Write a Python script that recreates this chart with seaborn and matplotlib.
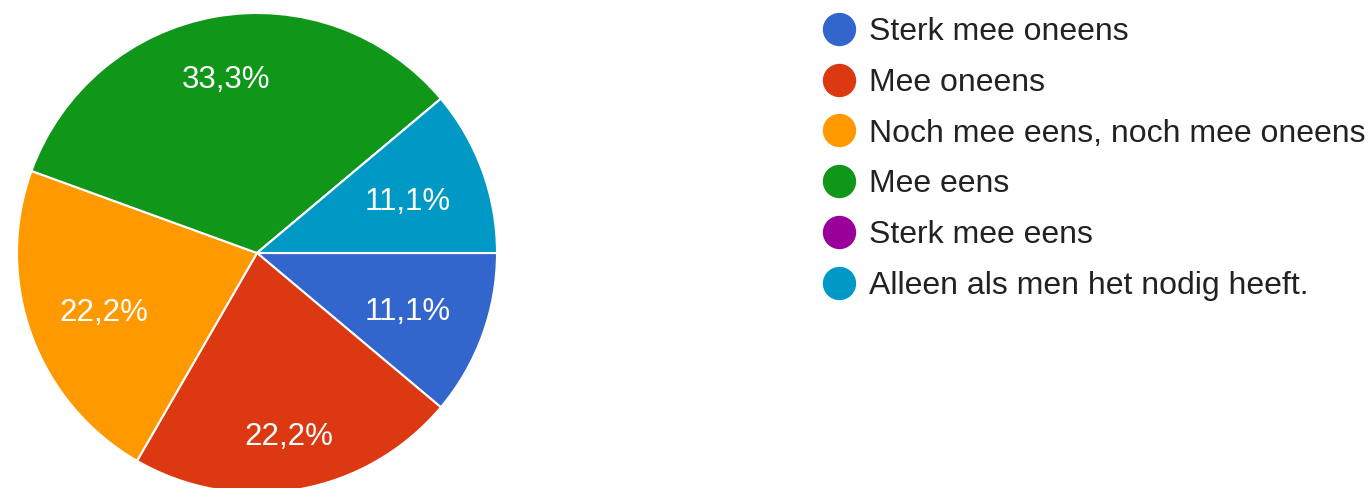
import numpy as np
import seaborn as sns
import matplotlib.pyplot as plt
from matplotlib.lines import Line2D


# -------------------------------------------------
# DATA
# -------------------------------------------------
categories = [
    "Sterk mee oneens",
    "Mee oneens",
    "Noch mee eens, noch mee oneens",
    "Mee eens",
    "Sterk mee eens",
    "Alleen als men het nodig heeft.",
]
counts = [1, 2, 2, 3, 0, 1]
colors = ["#3366CC", "#DC3912", "#FF9900", "#109618", "#990099", "#0099C6"]

# radial position of each percentage label (fraction of radius)
label_radius = [0.67, 0.76, 0.68, 0.75, 0.7, 0.67]


def pct_label(p):
    if p <= 0:
        return ""
    return f"{p:.1f}%".replace(".", ",")


# -------------------------------------------------
# PLOT
# -------------------------------------------------
sns.set_theme(style="white")
plt.rcParams["font.family"] = ["Liberation Sans", "DejaVu Sans"]

W, H = 1370, 488
fig = plt.figure(figsize=(W / 100, H / 100), dpi=100)
fig.patch.set_facecolor("white")

ax = fig.add_axes([17 / W, -5 / H, 480 / W, 480 / H])
wedges, texts, autotexts = ax.pie(
    counts,
    colors=colors,
    startangle=0,
    counterclock=False,
    autopct=pct_label,
    pctdistance=0.7,
    wedgeprops=dict(edgecolor="white", linewidth=1.5),
    textprops=dict(color="white", fontsize=22.5),
)

# small downward nudge so the labels sit like the original
y_nudge = 0.017
for w, t, r in zip(wedges, autotexts, label_radius):
    mid = np.deg2rad((w.theta1 + w.theta2) / 2)
    t.set_position((r * np.cos(mid), r * np.sin(mid) - y_nudge))

ax.set_xlim(-1, 1)
ax.set_ylim(-1, 1)
ax.set_aspect("equal")
ax.axis("off")

handles = [
    Line2D([], [], marker="o", linestyle="none", markersize=23,
           markerfacecolor=c, markeredgecolor=c)
    for c in colors
]
fig.legend(
    handles,
    categories,
    loc="upper left",
    bbox_to_anchor=(823 / W, 1 - 17 / H),
    frameon=False,
    fontsize=23,
    labelcolor="#222222",
    handlelength=1.0,
    handletextpad=0.45,
    labelspacing=0.65,
    borderpad=0,
    borderaxespad=0,
)

plt.savefig("out.png", dpi=100, facecolor="white")
